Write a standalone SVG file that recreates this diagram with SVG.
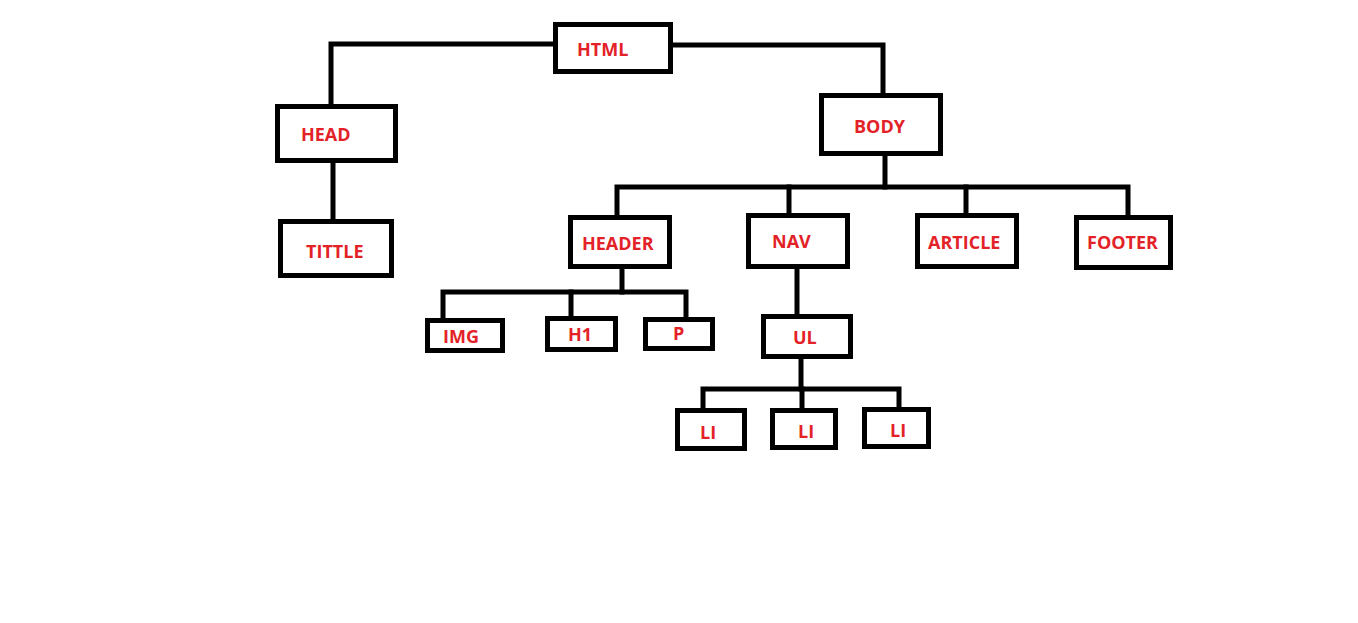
<svg xmlns="http://www.w3.org/2000/svg" width="1358" height="623" viewBox="0 0 1358 623">
<style>
.box{fill:#fff;stroke:#000;stroke-width:5}
.lbl{font-family:"Open Sans","Liberation Sans",sans-serif;font-weight:bold;font-size:18px;fill:#e32228}
.ln{fill:none;stroke:#000;stroke-width:5;stroke-linecap:square}
</style>
<rect width="1358" height="623" fill="#fff"/>
<g id="connectors">
<path class="ln" d="M555,44 H331 V105"/>
<path class="ln" d="M672,45 H883 V94"/>
<path class="ln" d="M333,163 V219"/>
<path class="ln" d="M885,156 V187"/>
<path class="ln" d="M617,214 V187 H1128 V215"/>
<path class="ln" d="M789,187 V213"/>
<path class="ln" d="M966,187 V213"/>
<path class="ln" d="M622,268 V292"/>
<path class="ln" d="M443,318 V292 H686 V317"/>
<path class="ln" d="M571,292 V316"/>
<path class="ln" d="M797,268 V314"/>
<path class="ln" d="M801,359 V389"/>
<path class="ln" d="M703,408 V389 H899 V407"/>
<path class="ln" d="M802,389 V408"/>
</g>
<g id="html"><rect class="box" x="555.5" y="24.5" width="115" height="47"/><text class="lbl" x="577" y="56">HTML</text></g>
<g id="head"><rect class="box" x="277.5" y="106.5" width="118" height="54"/><text class="lbl" x="301" y="141">HEAD</text></g>
<g id="tittle"><rect class="box" x="280.5" y="221.5" width="111" height="54"/><text class="lbl" x="306" y="258">TITTLE</text></g>
<g id="body"><rect class="box" x="821.5" y="95.5" width="119" height="58"/><text class="lbl" x="854" y="133">BODY</text></g>
<g id="header"><rect class="box" x="570.5" y="217.5" width="99" height="49"/><text class="lbl" x="582" y="250">HEADER</text></g>
<g id="nav"><rect class="box" x="748.5" y="215.5" width="99" height="51"/><text class="lbl" x="772" y="248">NAV</text></g>
<g id="article"><rect class="box" x="917.5" y="215.5" width="99" height="51"/><text class="lbl" x="928" y="249">ARTICLE</text></g>
<g id="footer"><rect class="box" x="1076.5" y="217.5" width="94" height="50"/><text class="lbl" x="1087" y="249">FOOTER</text></g>
<g id="img"><rect class="box" x="427.5" y="320.5" width="75" height="30"/><text class="lbl" x="443" y="343">IMG</text></g>
<g id="h1"><rect class="box" x="547.5" y="318.5" width="68" height="31"/><text class="lbl" x="568" y="341">H1</text></g>
<g id="p"><rect class="box" x="645.5" y="319.5" width="67" height="29"/><text class="lbl" x="673" y="340">P</text></g>
<g id="ul"><rect class="box" x="763.5" y="316.5" width="87" height="40"/><text class="lbl" x="793" y="344">UL</text></g>
<g id="li1"><rect class="box" x="677.5" y="410.5" width="67" height="38"/><text class="lbl" x="700" y="439">LI</text></g>
<g id="li2"><rect class="box" x="772.5" y="410.5" width="63" height="37"/><text class="lbl" x="798" y="438">LI</text></g>
<g id="li3"><rect class="box" x="864.5" y="409.5" width="64" height="37"/><text class="lbl" x="890" y="437">LI</text></g>
</svg>
